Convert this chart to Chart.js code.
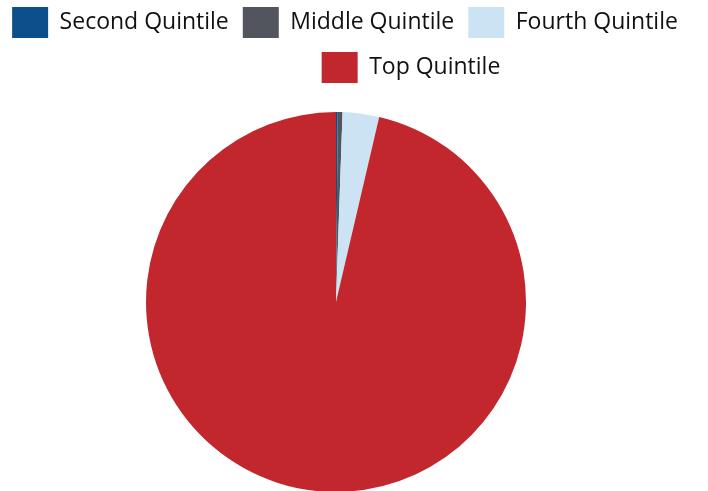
<!DOCTYPE html>
<html>
<head>
<meta charset="utf-8">
<script src="https://cdn.jsdelivr.net/npm/chart.js@4"></script>
<style>
  html, body { margin: 0; padding: 0; background: #fff; overflow: hidden; }
  #wrap { position: absolute; left: 0; top: -7px; width: 708px; height: 499px; }
</style>
</head>
<body>
<div id="wrap"><canvas id="myChart"></canvas></div>
<script>
const labels = ["Second Quintile", "Middle Quintile", "Fourth Quintile", "Top Quintile"];
const shares = [0.15, 0.4, 3.1, 96.35];
const colors = ["#0d4f8b", "#52555d", "#cce3f3", "#c1272d"];

// room under the legend, rows nudged like the original,
// and pie pulled a bit left
const legendGap = {
    id: "legendGap",
    beforeInit(chart) {
        const fit = chart.legend.fit;
        chart.legend.fit = function () {
            fit.bind(chart.legend)();
            this.height += 19;
            if (this.lineWidths && this.lineWidths.length > 1) {
                this.lineWidths[0] += 18;
                this.lineWidths[1] -= 114;
            }
        };
    },
    afterLayout(chart) {
        chart.chartArea.right -= 36;
        chart.chartArea.width -= 36;
    }
};

const ctx = document.getElementById("myChart").getContext("2d");
new Chart(ctx, {
    type: "pie",
    data: {
        labels: labels,
        datasets: [{
            data: shares,
            backgroundColor: colors,
            borderWidth: 0
        }]
    },
    options: {
        responsive: true,
        maintainAspectRatio: false,
        animation: false,
        plugins: {
            legend: {
                position: "top",
                labels: {
                    boxWidth: 36,
                    boxHeight: 31,
                    padding: 14,
                    color: "#111",
                    font: { family: "Open Sans", size: 23 }
                }
            },
            tooltip: { enabled: false }
        }
    },
    plugins: [legendGap]
});
</script>
</body>
</html>
